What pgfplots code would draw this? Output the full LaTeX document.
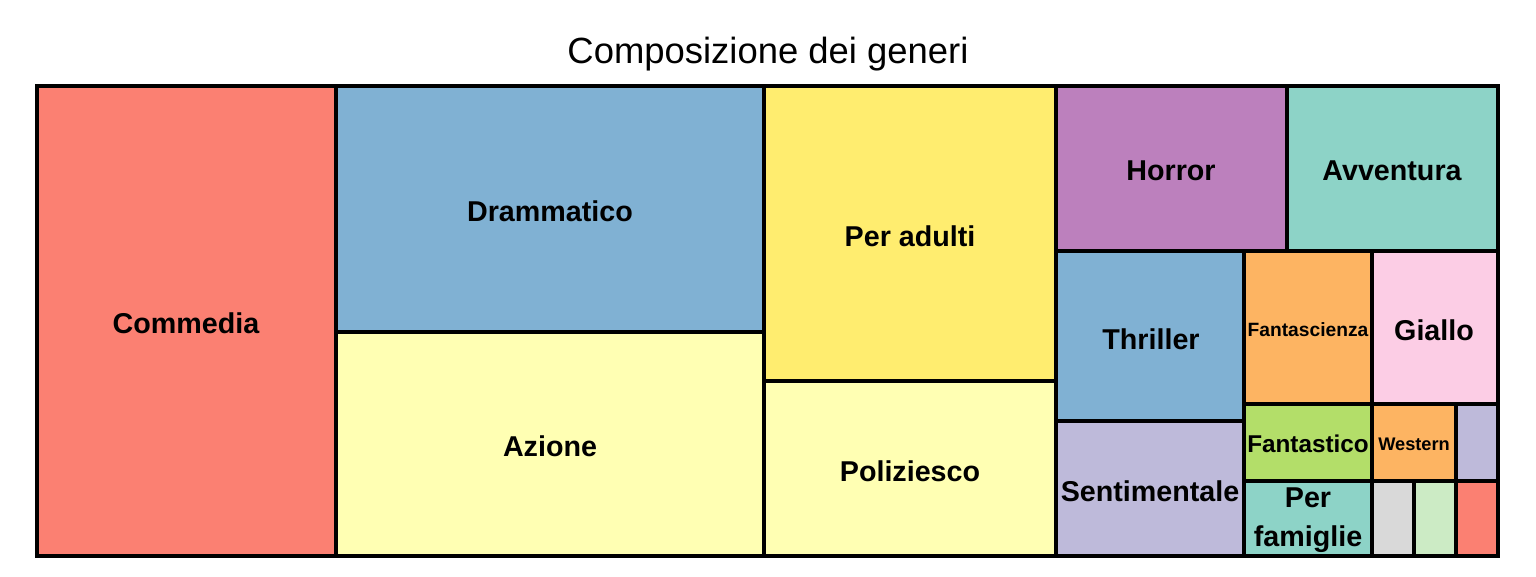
\documentclass[border=0pt]{standalone}
\usepackage{pgfplots}
\pgfplotsset{compat=1.18}
\usepackage{fontspec}
\setmainfont{Liberation Sans}
\definecolor{c1}{HTML}{FB8072}
\definecolor{c2}{HTML}{80B1D3}
\definecolor{c3}{HTML}{FFFFB3}
\definecolor{c4}{HTML}{FFED6F}
\definecolor{c5}{HTML}{BC80BD}
\definecolor{c6}{HTML}{8DD3C7}
\definecolor{c7}{HTML}{FDB462}
\definecolor{c8}{HTML}{FCCDE5}
\definecolor{c9}{HTML}{B3DE69}
\definecolor{c10}{HTML}{BEBADA}
\definecolor{c11}{HTML}{D9D9D9}
\definecolor{c12}{HTML}{CCEBC5}
\newcommand{\rect}[5]{\addplot[fill=#1, draw=black, line width=1pt] coordinates {(#2,#3) (#4,#3) (#4,#5) (#2,#5)} --cycle;}
\begin{document}
\begin{tikzpicture}
\begin{axis}[
  width=16cm, height=6cm, scale only axis,
  xmin=0, xmax=1536, ymin=0, ymax=576, y dir=reverse,
  hide axis, clip=false,
]
\addplot[draw=none] coordinates {(0,0) (1536,576)};
\rect{c1}{37}{86}{336}{556}
\rect{c2}{336}{86}{764}{332}
\rect{c3}{336}{332}{764}{556}
\rect{c4}{764}{86}{1056}{381}
\rect{c3}{764}{381}{1056}{556}
\rect{c5}{1056}{86}{1287}{251}
\rect{c6}{1287}{86}{1498}{251}
\rect{c2}{1056}{251}{1244}{421}
\rect{c10}{1056}{421}{1244}{556}
\rect{c7}{1244}{251}{1372}{404}
\rect{c8}{1372}{251}{1498}{404}
\rect{c9}{1244}{404}{1372}{481}
\rect{c6}{1244}{481}{1372}{556}
\rect{c7}{1372}{404}{1456}{481}
\rect{c10}{1456}{404}{1498}{481}
\rect{c11}{1372}{481}{1414}{556}
\rect{c12}{1414}{481}{1456}{556}
\rect{c1}{1456}{481}{1498}{556}
\draw[black, line width=1pt] (axis cs:37,86) rectangle (axis cs:1498,556);
\node[font=\fontsize{10.8}{13}\selectfont] at (axis cs:768,54) {Composizione dei generi};
\begin{scope}[every node/.style={font=\fontsize{8.5}{11.5}\selectfont\bfseries}]
\node at (axis cs:186,323) {Commedia};
\node at (axis cs:550,211) {Drammatico};
\node at (axis cs:550,446) {Azione};
\node at (axis cs:910,236) {Per adulti};
\node at (axis cs:910,471) {Poliziesco};
\node at (axis cs:1171,171) {Horror};
\node at (axis cs:1392,171) {Avventura};
\node at (axis cs:1151,339) {Thriller};
\node at (axis cs:1434,330) {Giallo};
\node at (axis cs:1150,491) {Sentimentale};
\node[align=center] at (axis cs:1308,520) {Per\\famiglie};
\end{scope}
\node[font=\fontsize{5.7}{7}\selectfont\bfseries] at (axis cs:1308,330) {Fantascienza};
\node[font=\fontsize{7.2}{9}\selectfont\bfseries] at (axis cs:1308,444) {Fantastico};
\node[font=\fontsize{5.4}{7}\selectfont\bfseries] at (axis cs:1414,444) {Western};
\end{axis}
\end{tikzpicture}
\end{document}
